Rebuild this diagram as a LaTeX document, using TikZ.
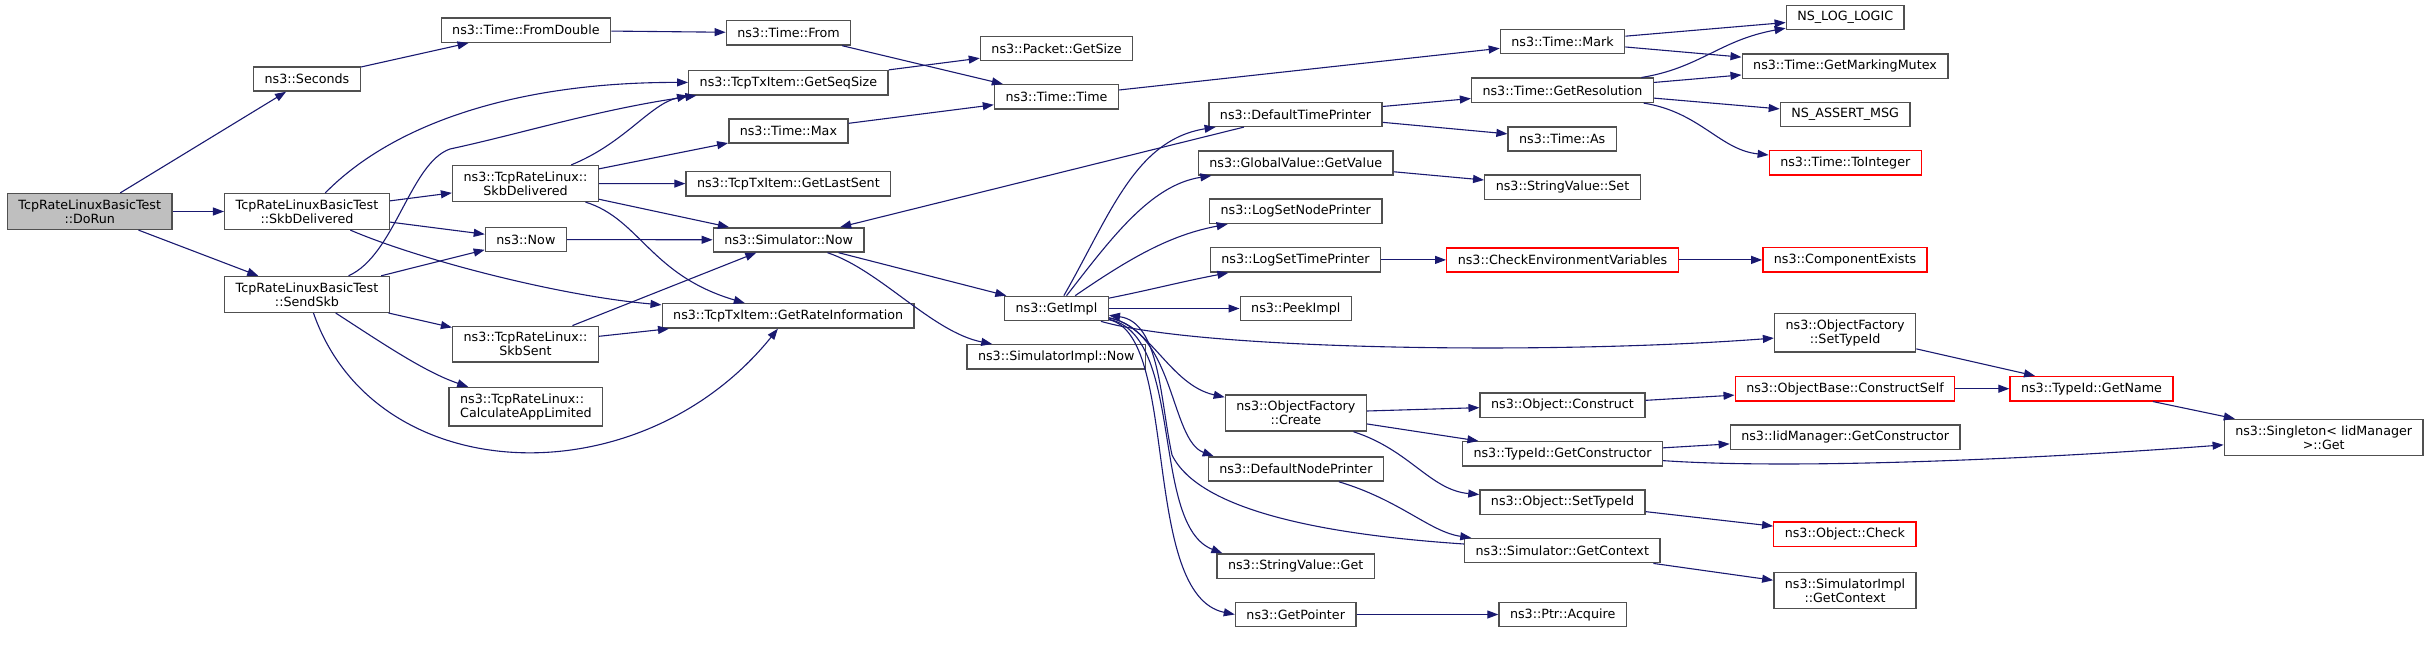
\documentclass[tikz,border=0pt]{standalone}
\usepackage{fontspec}
\setmainfont{DejaVu Sans}
\usetikzlibrary{arrows.meta}
\definecolor{CGedge}{RGB}{25,25,112}
\definecolor{CGborder}{RGB}{80,80,80}
\definecolor{CGroot}{RGB}{191,191,191}
\definecolor{CGred}{RGB}{255,0,0}
\tikzset{
  fn/.style={draw=CGborder,line width=1.4pt,fill=white,text=black,align=center,
             inner xsep=11pt,inner ysep=6pt,minimum height=24.2pt,
             font=\fontsize{12.7}{14}\selectfont},
  fnroot/.style={fn,fill=CGroot},
  fnred/.style={fn,draw=CGred},
  call/.style={-{Triangle[length=11pt,width=8pt]},line width=1.1pt,draw=CGedge},
}

\begin{document}
\begin{tikzpicture}[x=1pt,y=-1pt]
    \useasboundingbox (0,0) rectangle (2431,661);
    \node[fnroot] (dorun) at (89.75,211.5) {TcpRateLinuxBasicTest\\::DoRun};
    \node[fn] (seconds) at (307,79) {ns3::Seconds};
    \node[fn] (fromdouble) at (525.9,30.2) {ns3::Time::FromDouble};
    \node[fn] (tskbdel) at (307,211.5) {TcpRateLinuxBasicTest\\::SkbDelivered};
    \node[fn] (tsendskb) at (307,294.4) {TcpRateLinuxBasicTest\\::SendSkb};
    \node[fn] (rskbdel) at (525.5,183.5) {ns3::TcpRateLinux::\\SkbDelivered};
    \node[fn] (now) at (525.9,239.5) {ns3::Now};
    \node[fn] (rskbsent) at (525.5,344.2) {ns3::TcpRateLinux::\\SkbSent};
    \node[fn,align=left] (calcapp) at (525.9,406.7) {ns3::TcpRateLinux::\\CalculateAppLimited};
    \node[fn] (timefrom) at (788.5,32.9) {ns3::Time::From};
    \node[fn] (getsize) at (1056.5,48.4) {ns3::Packet::GetSize};
    \node[fn] (getseqsize) at (788.4,82.7) {ns3::TcpTxItem::GetSeqSize};
    \node[fn] (timetime) at (1056.5,96.8) {ns3::Time::Time};
    \node[fn] (timemax) at (788.4,131) {ns3::Time::Max};
    \node[fn] (lastsent) at (788.4,183.7) {ns3::TcpTxItem::GetLastSent};
    \node[fn] (simnow) at (788.6,239.9) {ns3::Simulator::Now};
    \node[fn] (rateinfo) at (788.2,315.9) {ns3::TcpTxItem::GetRateInformation};
    \node[fn] (getimpl) at (1056.5,308.5) {ns3::GetImpl};
    \node[fn] (implnow) at (1056.3,356.9) {ns3::SimulatorImpl::Now};
    \node[fn] (timemark) at (1562.5,41.5) {ns3::Time::Mark};
    \node[fn] (getres) at (1562.5,90.3) {ns3::Time::GetResolution};
    \node[fn] (deftime) at (1295.5,114.3) {ns3::DefaultTimePrinter};
    \node[fn] (timeas) at (1562.2,138.9) {ns3::Time::As};
    \node[fn] (getvalue) at (1295.7,162.9) {ns3::GlobalValue::GetValue};
    \node[fn] (strset) at (1562.5,187.1) {ns3::StringValue::Set};
    \node[fn] (lognode) at (1295.8,211.3) {ns3::LogSetNodePrinter};
    \node[fn] (logtime) at (1295.5,259.9) {ns3::LogSetTimePrinter};
    \node[fnred] (checkenv) at (1562.5,259.9) {ns3::CheckEnvironmentVariables};
    \node[fn] (peekimpl) at (1295.8,308.5) {ns3::PeekImpl};
    \node[fn] (ofcreate) at (1295.9,413.1) {ns3::ObjectFactory\\::Create};
    \node[fn] (objconstruct) at (1562.5,405.2) {ns3::Object::Construct};
    \node[fn] (getctor) at (1562.5,453.8) {ns3::TypeId::GetConstructor};
    \node[fn] (defnode) at (1295.9,469) {ns3::DefaultNodePrinter};
    \node[fn] (setobjtid) at (1562.5,502.2) {ns3::Object::SetTypeId};
    \node[fn] (getctx) at (1562.3,550.6) {ns3::Simulator::GetContext};
    \node[fn] (strget) at (1295.7,566.1) {ns3::StringValue::Get};
    \node[fn] (getptr) at (1295.7,614.5) {ns3::GetPointer};
    \node[fn] (acquire) at (1562.7,614.5) {ns3::Ptr::Acquire};
    \node[fn] (loglogic) at (1845.2,17.5) {NS\_LOG\_LOGIC};
    \node[fn] (mutex) at (1845,66.1) {ns3::Time::GetMarkingMutex};
    \node[fn] (assertmsg) at (1845.2,114.5) {NS\_ASSERT\_MSG};
    \node[fnred] (tointeger) at (1845.3,162.9) {ns3::Time::ToInteger};
    \node[fnred] (compexists) at (1845,259.9) {ns3::ComponentExists};
    \node[fn] (ofsettid) at (1845.1,332.7) {ns3::ObjectFactory\\::SetTypeId};
    \node[fnred] (constructself) at (1845,388.7) {ns3::ObjectBase::ConstructSelf};
    \node[fn] (iidctor) at (1845.2,437.1) {ns3::IidManager::GetConstructor};
    \node[fnred] (objcheck) at (1844.9,534.3) {ns3::Object::Check};
    \node[fn] (implctx) at (1845,590.3) {ns3::SimulatorImpl\\::GetContext};
    \node[fnred] (getname) at (2091.5,388.7) {ns3::TypeId::GetName};
    \node[fn] (singleton) at (2323.7,437.3) {ns3::Singleton< IidManager\\ >::Get};
    \draw[call] (dorun) -- (seconds);
    \draw[call] (dorun) -- (tskbdel);
    \draw[call] (dorun) -- (tsendskb);
    \draw[call] (seconds) -- (fromdouble);
    \draw[call] (fromdouble) -- (timefrom);
    \draw[call] (timefrom) -- (timetime);
    \draw[call] (tskbdel) .. controls (395,122) and (520,82) .. (getseqsize);
    \draw[call] (tskbdel) -- (rskbdel);
    \draw[call] (tskbdel) -- (now);
    \draw[call] (tskbdel) .. controls (420,260) and (560,296) .. (rateinfo);
    \draw[call] (tsendskb) .. controls (395,255) and (410,163) .. (450,149)
                .. controls (520,134) and (600,109) .. (getseqsize);
    \draw[call] (tsendskb) -- (now);
    \draw[call] (tsendskb) -- (rskbsent);
    \draw[call] (tsendskb) .. controls (385,345) and (425,372) .. (calcapp);
    \draw[call] (tsendskb) .. controls (375,490) and (640,500) .. (rateinfo);
    \draw[call] (rskbdel) .. controls (625,143) and (650,104) .. (getseqsize.south west);
    \draw[call] (rskbdel) -- (timemax);
    \draw[call] (rskbdel) -- (lastsent);
    \draw[call] (rskbdel) -- (simnow);
    \draw[call] (rskbdel) .. controls (640,219) and (650,275) .. (rateinfo);
    \draw[call] (now) -- (simnow);
    \draw[call] (rskbsent) -- (simnow);
    \draw[call] (rskbsent) -- (rateinfo);
    \draw[call] (getseqsize) -- (getsize);
    \draw[call] (timemax) -- (timetime);
    \draw[call] (timetime) -- (timemark);
    \draw[call] (simnow) -- (getimpl);
    \draw[call] (simnow) .. controls (880,270) and (932,332) .. (implnow);
    \draw[call] (timemark) -- (loglogic);
    \draw[call] (timemark) -- (mutex);
    \draw[call] (getimpl) .. controls (1110,215) and (1135,140) .. (deftime);
    \draw[call] (getimpl) .. controls (1110,240) and (1150,185) .. (getvalue);
    \draw[call] (getimpl) .. controls (1130,258) and (1170,235) .. (lognode);
    \draw[call] (getimpl) .. controls (1150,290) and (1180,282) .. (logtime);
    \draw[call] (getimpl) -- (peekimpl);
    \draw[call] (getimpl) .. controls (1200,350) and (1550,355) .. (ofsettid);
    \draw[call] (getimpl) .. controls (1150,325) and (1170,385) .. (ofcreate);
    \draw[call] (getimpl) .. controls (1175,330) and (1170,440) .. ([xshift=6pt]defnode.north west);
    \draw[call] (getimpl) .. controls (1185,335) and (1150,525) .. ([xshift=6pt]strget.north west);
    \draw[call] (getimpl) .. controls (1180,335) and (1140,595) .. (getptr.west);
    \draw[call] (getctx) .. controls (1330,535) and (1200,512) .. (1172,455)
                .. controls (1160,400) and (1160,322) .. (getimpl);
    \draw[call] (deftime) -- (simnow);
    \draw[call] (deftime) -- (getres);
    \draw[call] (deftime) -- (timeas);
    \draw[call] (getres) .. controls (1700,68) and (1720,40) .. (loglogic);
    \draw[call] (getres) -- (mutex);
    \draw[call] (getres) -- (assertmsg);
    \draw[call] (getres) .. controls (1700,112) and (1720,150) .. (tointeger);
    \draw[call] (getvalue) -- (strset);
    \draw[call] (logtime) -- (checkenv);
    \draw[call] (checkenv) -- (compexists);
    \draw[call] (ofcreate) -- (objconstruct);
    \draw[call] (ofcreate) -- (getctor);
    \draw[call] (ofcreate) .. controls (1410,450) and (1430,490) .. (setobjtid);
    \draw[call] (defnode) .. controls (1400,500) and (1430,532) .. (getctx);
    \draw[call] (objconstruct) -- (constructself);
    \draw[call] (getctor) -- (iidctor);
    \draw[call] (getctor) .. controls (1800,470) and (2050,458) .. (singleton);
    \draw[call] (setobjtid) -- (objcheck);
    \draw[call] (getctx) -- (implctx);
    \draw[call] (getptr) -- (acquire);
    \draw[call] (ofsettid) -- (getname);
    \draw[call] (constructself) -- (getname);
    \draw[call] (getname) -- (singleton);
\end{tikzpicture}
\end{document}
